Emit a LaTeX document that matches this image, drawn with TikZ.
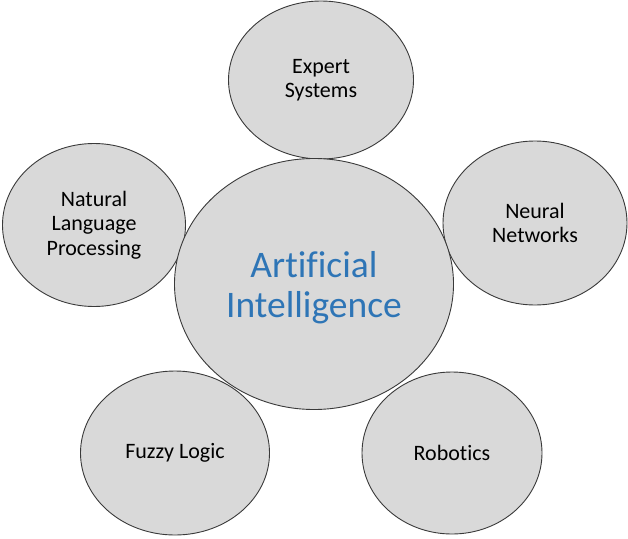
\documentclass[tikz,border=0pt]{standalone}
\usepackage{fontspec}
\setmainfont[Ligatures=NoCommon]{Carlito}
\usetikzlibrary{shapes.geometric}
\definecolor{bubblefill}{HTML}{D9D9D9}
\definecolor{bubbleline}{HTML}{3A3A3A}
\definecolor{aiblue}{HTML}{2E75B6}
\begin{document}
\begin{tikzpicture}[x=1pt,y=1pt,
  bubble/.style={ellipse, draw=bubbleline, fill=bubblefill, line width=0.9pt, inner sep=0pt, align=center,
    font=\fontsize{22}{24.5}\selectfont, text=black},
  core/.style={bubble, font=\fontsize{37.5}{40}\selectfont, text=aiblue}]
\useasboundingbox (0,0) rectangle (628,-538);
\node[bubble, minimum width=185pt, minimum height=158pt] (es) at (321,-80) {Expert\\Systems};
\node[bubble, minimum width=183pt, minimum height=163pt] (nlp) at (94,-225) {Natural\\Language\\Processing};
\node[bubble, minimum width=184pt, minimum height=164pt] (nn) at (535,-223) {Neural\\Networks};
\node[bubble, minimum width=189pt, minimum height=164pt] (fl) at (175,-453) {Fuzzy Logic};
\node[bubble, minimum width=180pt, minimum height=162pt] (rb) at (452,-453) {Robotics};
\node[core, minimum width=279pt, minimum height=251pt] (ai) at (314,-284) {};
\node[text=aiblue, font=\fontsize{37.5}{40}\selectfont, align=center, inner sep=0pt] (ait) at (314,-288) {Artificial\\Intelligence};
\end{tikzpicture}
\end{document}
